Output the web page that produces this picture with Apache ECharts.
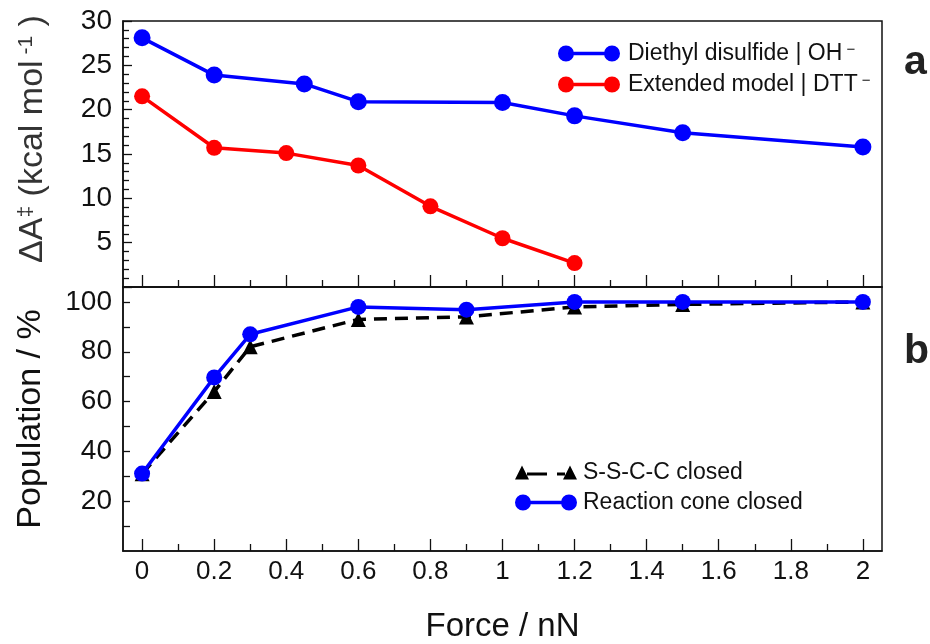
<!DOCTYPE html>
<html>
<head>
<meta charset="utf-8">
<script src="https://cdn.jsdelivr.net/npm/echarts@6/dist/echarts.min.js"></script>
<style>
html, body { margin: 0; padding: 0; background: #fff; }
#chart { width: 930px; height: 644px; }
</style>
</head>
<body>
<div id="chart"></div>
<script>
// panel a: activation free energy vs force
const forceDiethyl = [0, 0.2, 0.45, 0.6, 1.0, 1.2, 1.5, 2.0]
const barrierDiethyl = [28.1, 23.9, 22.9, 20.9, 20.8, 19.3, 17.4, 15.8]
const forceExtended = [0, 0.2, 0.4, 0.6, 0.8, 1.0, 1.2]
const barrierExtended = [21.5, 15.7, 15.1, 13.7, 9.1, 5.5, 2.7]

// panel b: population vs force
const forcePop = [0, 0.2, 0.3, 0.6, 0.9, 1.2, 1.5, 2.0]
const popSSCC = [31, 64, 82, 93, 94, 98, 99, 100]
const popCone = [31.1, 69.7, 87, 98, 96.9, 100, 100, 100]

// ticks / labels
const xMajorTicks = [0, 0.2, 0.4, 0.6, 0.8, 1, 1.2, 1.4, 1.6, 1.8, 2]
const xMinorTicks = [0.1, 0.3, 0.5, 0.7, 0.9, 1.1, 1.3, 1.5, 1.7, 1.9]
const barrierLabels = [5, 10, 15, 20, 25, 30]
const popTicks = [10, 20, 30, 40, 50, 60, 70, 80, 90, 100]
const popLabels = [20, 40, 60, 80, 100]

const NAME_DIETHYL = 'Diethyl disulfide | OH⁻'
const NAME_EXTENDED = 'Extended model | DTT⁻'
const NAME_SSCC = 'S-S-C-C closed'
const NAME_CONE = 'Reaction cone closed'

const FONT = '"Liberation Sans", Arial, Helvetica, sans-serif'
const INK = '#111'
const BLUE = '#0000ff'
const RED = '#ff0000'

// legend icons: marker - line - marker
const ICON_CIRCLES = 'path://M0,8A8,8,0,1,1,16,8A8,8,0,1,1,0,8ZM15,6.3L47,6.3L47,9.7L15,9.7ZM46,8A8,8,0,1,1,62,8A8,8,0,1,1,46,8Z'
const ICON_TRIANGLES = 'path://M0,16L7,2L14,16ZM12,9L32,9L32,12L12,12ZM42,9L50,9L50,12L42,12ZM48,16L55,2L62,16Z'

const zip = (xs, ys) => xs.map((x, i) => [x, ys[i]])

const axisLine = { lineStyle: { color: INK, width: 1.5 }, onZero: false }
const tickStyle = { color: INK, width: 1.3 }

function xAxes(gridIndex, withLabels) {
  const base = {
    gridIndex, type: 'value', position: 'bottom',
    min: -0.053, max: 2.053,
    splitLine: { show: false }
  }
  const major = Object.assign({}, base, {
    axisLine,
    axisTick: { inside: true, length: 12, customValues: xMajorTicks, lineStyle: tickStyle },
    axisLabel: withLabels
      ? { customValues: xMajorTicks, fontSize: 26, margin: 8, color: INK, fontFamily: FONT }
      : { show: false }
  })
  if (withLabels) {
    Object.assign(major, {
      name: 'Force / nN', nameLocation: 'middle', nameGap: 59,
      nameTextStyle: { fontSize: 33, color: INK, fontFamily: FONT }
    })
  }
  const minor = Object.assign({}, base, {
    axisLine: { show: false },
    axisTick: { inside: true, length: 7, customValues: xMinorTicks, lineStyle: tickStyle },
    axisLabel: { show: false }
  })
  return [major, minor]
}

const chart = echarts.init(document.getElementById('chart'))

chart.setOption({
  backgroundColor: '#fff',
  animation: false,
  grid: [
    { left: 123, right: 48, top: 21, height: 266, show: true, borderColor: INK, borderWidth: 1.5 },
    { left: 123, right: 48, top: 287, height: 269, show: true, borderColor: INK, borderWidth: 1.5 }
  ],
  xAxis: [...xAxes(0, false), ...xAxes(1, true)],
  yAxis: [
    {
      gridIndex: 0, type: 'value', position: 'left',
      min: 0, max: 30, interval: 5,
      axisLine,
      axisTick: { inside: true, length: 9, lineStyle: tickStyle },
      minorTick: { show: true, splitNumber: 5, length: 6, lineStyle: tickStyle },
      axisLabel: { customValues: barrierLabels, fontSize: 28, margin: 11, color: INK, fontFamily: FONT },
      splitLine: { show: false },
      name: 'ΔA{sup|‡} (kcal mol{sup| -1} )',
      nameLocation: 'middle', nameGap: 73, nameRotate: 90,
      nameTextStyle: {
        fontSize: 34, color: '#333', fontFamily: FONT, padding: [0, 0, 0, 30],
        rich: { sup: { fontSize: 21, verticalAlign: 'top', color: '#333', fontFamily: FONT } }
      }
    },
    {
      gridIndex: 1, type: 'value', position: 'left',
      min: 0, max: 106,
      axisLine,
      axisTick: { inside: true, length: 7, customValues: popTicks, lineStyle: tickStyle },
      axisLabel: { customValues: popLabels, fontSize: 28, margin: 11, color: INK, fontFamily: FONT },
      splitLine: { show: false },
      name: 'Population / %',
      nameLocation: 'middle', nameGap: 75, nameRotate: 90,
      nameTextStyle: { fontSize: 34, color: INK, fontFamily: FONT }
    }
  ],
  legend: [
    {
      data: [{ name: NAME_DIETHYL, icon: ICON_CIRCLES }, { name: NAME_EXTENDED, icon: ICON_CIRCLES }],
      orient: 'vertical', left: 553, top: 37,
      itemWidth: 62, itemHeight: 16, itemGap: 8,
      selectedMode: false, symbolKeepAspect: true,
      formatter: n => n.replace('⁻', '{sup| −}'),
      textStyle: {
        fontSize: 23, color: INK, fontFamily: FONT, padding: [0, 0, 0, 3],
        rich: { sup: { fontSize: 15, verticalAlign: 'top', color: INK, fontFamily: FONT } }
      }
    },
    {
      data: [{ name: NAME_SSCC, icon: ICON_TRIANGLES }, { name: NAME_CONE, icon: ICON_CIRCLES }],
      orient: 'vertical', left: 510, top: 456,
      itemWidth: 62, itemHeight: 16, itemGap: 7,
      selectedMode: false, symbolKeepAspect: true,
      textStyle: { fontSize: 23, color: INK, fontFamily: FONT, padding: [0, 0, 0, 1] }
    }
  ],
  graphic: [
    { type: 'text', left: 904, top: 42, style: { text: 'a', font: 'bold 41px ' + FONT, fill: '#222' } },
    { type: 'text', left: 904, top: 331, style: { text: 'b', font: 'bold 41px ' + FONT, fill: '#222' } }
  ],
  series: [
    {
      name: NAME_DIETHYL, type: 'line', xAxisIndex: 0, yAxisIndex: 0,
      data: zip(forceDiethyl, barrierDiethyl),
      symbol: 'circle', symbolSize: 17,
      lineStyle: { color: BLUE, width: 3.5 }, itemStyle: { color: BLUE }
    },
    {
      name: NAME_EXTENDED, type: 'line', xAxisIndex: 0, yAxisIndex: 0,
      data: zip(forceExtended, barrierExtended),
      symbol: 'circle', symbolSize: 16,
      lineStyle: { color: RED, width: 3.5 }, itemStyle: { color: RED }
    },
    {
      name: NAME_SSCC, type: 'line', xAxisIndex: 2, yAxisIndex: 1,
      data: zip(forcePop, popSSCC),
      symbol: 'triangle', symbolSize: 15,
      lineStyle: { color: '#000', width: 3.5, type: [13, 8] }, itemStyle: { color: '#000' }
    },
    {
      name: NAME_CONE, type: 'line', xAxisIndex: 2, yAxisIndex: 1,
      data: zip(forcePop, popCone),
      symbol: 'circle', symbolSize: 16,
      lineStyle: { color: BLUE, width: 3.5 }, itemStyle: { color: BLUE }
    }
  ]
})
</script>
</body>
</html>
